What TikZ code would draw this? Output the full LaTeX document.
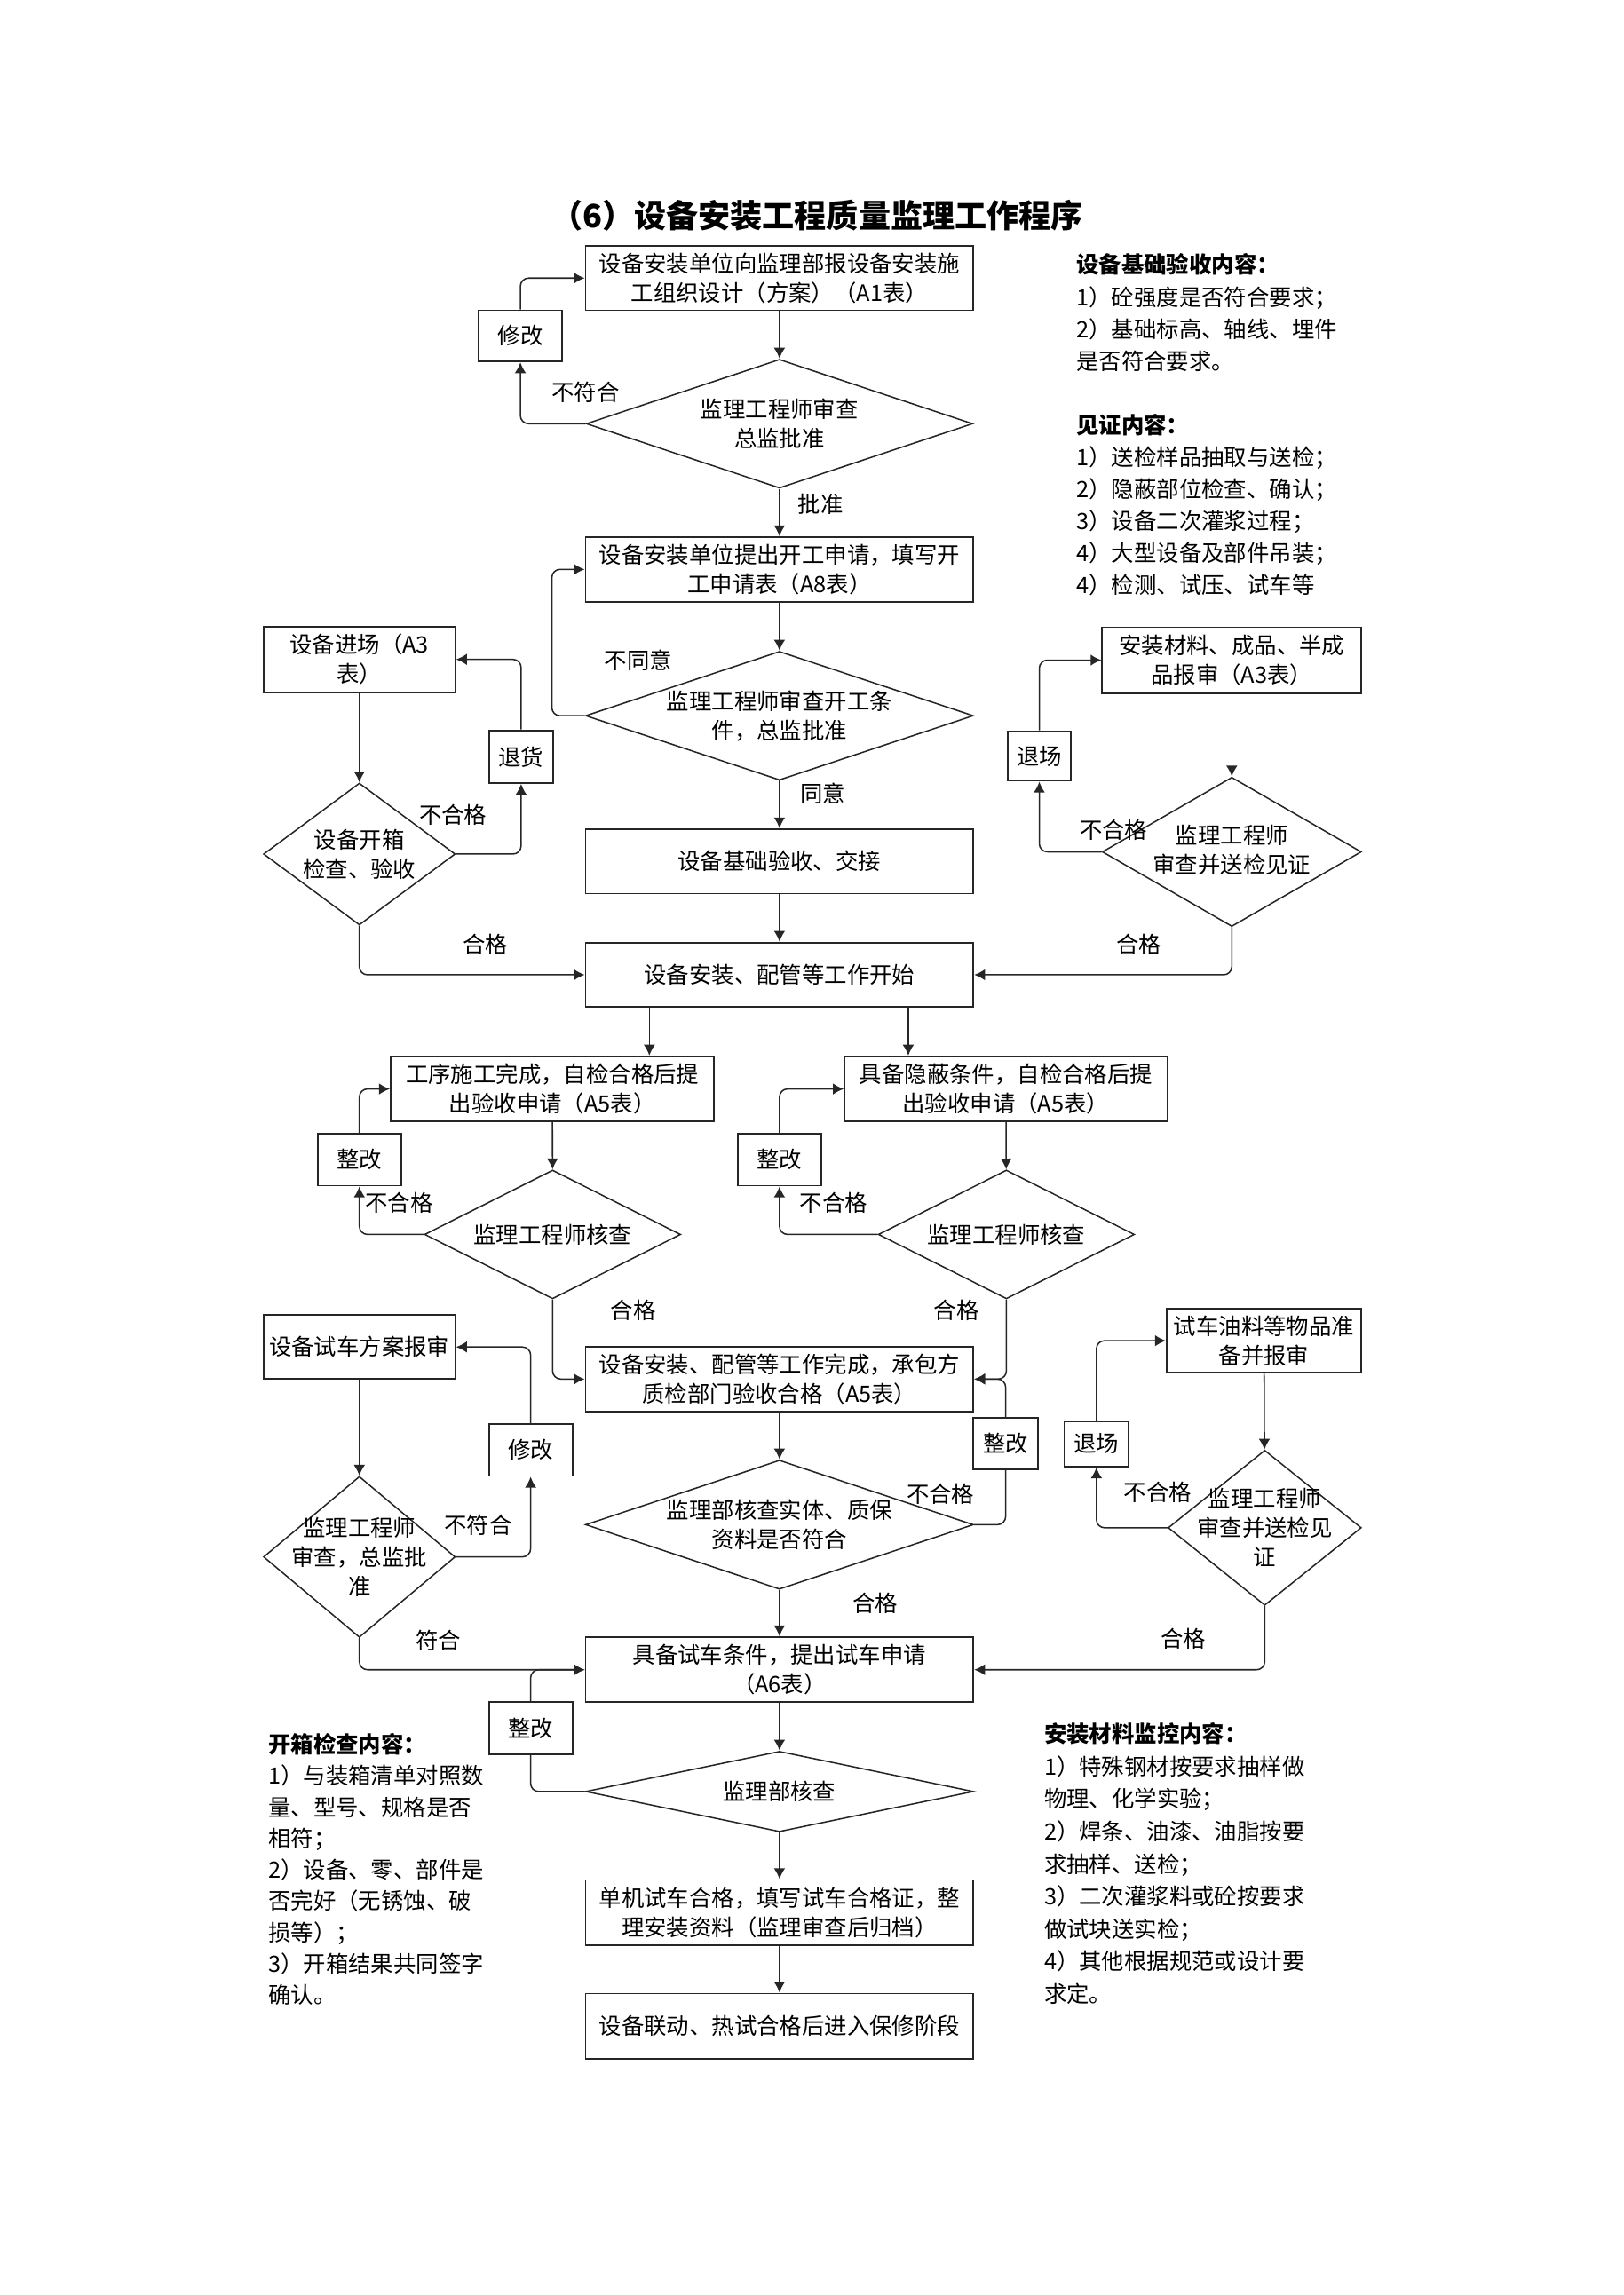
\documentclass[tikz,border=0pt]{standalone}
\usepackage{fontspec}
\setmainfont{Noto Sans CJK SC}
\usetikzlibrary{shapes.geometric,arrows.meta,calc}
\newcommand\btxt{\fontsize{8.3pt}{10.75pt}\selectfont}
\tikzset{
  sz/.style 2 args={minimum width=#1*0.18936mm,minimum height=#2*0.18936mm},
  pbox/.style={draw=black!85,line width=0.6pt,rectangle,inner sep=0pt,align=center,font=\btxt},
  dia/.style={draw=black!85,line width=0.5pt,diamond,inner sep=0pt},
  txt/.style={inner sep=0pt,align=center,font=\btxt},
  note/.style={inner sep=0pt,align=left,anchor=west},
  line/.style={draw=black!85,line width=0.5pt,rounded corners=3pt},
  arr/.style={line,-{Latex[length=4pt,width=4.2pt]}}
}
\begin{document}
\begin{tikzpicture}[x=0.18936mm,y=-0.18936mm]
\fill[white] (0,0) rectangle (1109,1568);
\useasboundingbox (0,0) rectangle (1109,1568);

% title
\node[inner sep=0pt,font=\fontsize{11.8pt}{14pt}\selectfont\bfseries] (title) at (558,147.5) {（6）设备安装工程质量监理工作程序};

% main column
\node[pbox,sz={265}{44}] (a1) at (532.5,190) {设备安装单位向监理部报设备安装施\\工组织设计（方案）（A1表）};
\node[dia,sz={264}{88}] (d1) at (532.5,289.5) {};
\node[txt] (d1t) at (d1) {监理工程师审查\\总监批准};
\node[pbox,sz={265}{44}] (a8) at (532.5,389) {设备安装单位提出开工申请，填写开\\工申请表（A8表）};
\node[dia,sz={265}{88}] (d2) at (532.5,489) {};
\node[txt] (d2t) at (d2) {监理工程师审查开工条\\件，总监批准};
\node[pbox,sz={265}{44}] (jc) at (532.5,588.5) {设备基础验收、交接};
\node[pbox,sz={265}{44}] (ks) at (532.5,666) {设备安装、配管等工作开始};

\node[pbox,sz={57}{35}] (xg1) at (355.5,229.5) {修改};

% left upper
\node[pbox,sz={131}{45}] (jc1) at (245.5,450.5) {设备进场（A3\\表）};
\node[dia,sz={131}{97}] (dk) at (245.5,583.5) {};
\node[txt] (dkt) at (dk) {设备开箱\\检查、验收};
\node[pbox,sz={44}{36}] (th) at (356,517) {退货};

% right upper
\node[pbox,sz={177}{45}] (cl) at (841.5,451) {安装材料、成品、半成\\品报审（A3表）};
\node[dia,sz={177}{102}] (dc) at (841.5,582) {};
\node[txt] (dct) at (841.5,580.5) {监理工程师\\审查并送检见证};
\node[pbox,sz={43.5}{34}] (tc) at (710,516.5) {退场};

% middle row
\node[pbox,sz={221}{44.5}] (gx) at (377.4,744) {工序施工完成，自检合格后提\\出验收申请（A5表）};
\node[pbox,sz={220.5}{44.5}] (yb) at (687.2,744) {具备隐蔽条件，自检合格后提\\出验收申请（A5表）};
\node[pbox,sz={57}{35.5}] (zg1) at (245.5,792.3) {整改};
\node[pbox,sz={57}{35.5}] (zg2) at (532.5,792.3) {整改};
\node[dia,sz={175}{88}] (dh1) at (377.5,843.4) {};
\node[txt] (dh1t) at (dh1) {监理工程师核查};
\node[dia,sz={175}{88}] (dh2) at (687.5,843.4) {};
\node[txt] (dh2t) at (dh2) {监理工程师核查};

% lower
\node[pbox,sz={131}{43.5}] (sc) at (245.5,920.3) {设备试车方案报审};
\node[pbox,sz={265}{44}] (wc) at (532.5,942.2) {设备安装、配管等工作完成，承包方\\质检部门验收合格（A5表）};
\node[pbox,sz={133}{43.5}] (yl) at (863.5,916) {试车油料等物品准\\备并报审};
\node[pbox,sz={57}{35.4}] (xg2) at (362.5,990.7) {修改};
\node[pbox,sz={44}{35.5}] (zg3) at (687,986.3) {整改};
\node[pbox,sz={44}{31}] (tc2) at (749,986.5) {退场};
\node[dia,sz={265}{88.2}] (dz) at (532.5,1041.7) {};
\node[txt] (dzt) at (dz) {监理部核查实体、质保\\资料是否符合};
\node[dia,sz={131}{110}] (dl) at (245.5,1063.7) {};
\node[txt] (dlt) at (dl) {监理工程师\\审查，总监批\\准};
\node[dia,sz={132}{106}] (dr) at (864,1043.8) {};
\node[txt] (drt) at (dr) {监理工程师\\审查并送检见\\证};
\node[pbox,sz={265}{44.4}] (sq) at (532.5,1140.8) {具备试车条件，提出试车申请\\（A6表）};
\node[pbox,sz={57}{35.5}] (zg4) at (362.5,1180.7) {整改};
\node[dia,sz={265}{55}] (dj) at (532.5,1224) {};
\node[txt] (djt) at (dj) {监理部核查};
\node[pbox,sz={265}{44.6}] (dji) at (532.5,1306.7) {单机试车合格，填写试车合格证，整\\理安装资料（监理审查后归档）};
\node[pbox,sz={265}{44.4}] (ld) at (532.5,1384.2) {设备联动、热试合格后进入保修阶段};

% helper coordinates
\coordinate (xa) at (443.6,0);
\coordinate (xb) at (620.5,0);
\coordinate (xd2) at (377,0);

% main arrows
\draw[arr] (a1) -- (d1);
\draw[arr] (d1) -- (a8);
\draw[arr] (a8) -- (d2);
\draw[arr] (d2) -- (jc);
\draw[arr] (jc) -- (ks);
\draw[arr] (ks.south -| xa) -- (gx.north -| xa);
\draw[arr] (ks.south -| xb) -- (yb.north -| xb);
\draw[arr] (gx) -- (dh1);
\draw[arr] (yb) -- (dh2);
\draw[arr] (jc1) -- (dk);
\draw[arr] (cl) -- (dc);
\draw[arr] (sc) -- (dl);
\draw[arr] (yl) -- (dr);
\draw[arr] (wc) -- (dz);
\draw[arr] (dz) -- (sq);
\draw[arr] (sq) -- (dj);
\draw[arr] (dj) -- (dji);
\draw[arr] (dji) -- (ld);

% loops
\draw[arr] (d1.west) -| (xg1.south);
\draw[arr] (xg1.north) |- (a1.west);
\draw[arr] (d2.west) -- (d2.west -| xd2) |- (a8.west);
\draw[arr] (dk.east) -| (th.south);
\draw[arr] (th.north) |- (jc1.east);
\draw[arr] (dk.south) |- (ks.west);
\draw[arr] (dc.west) -| (tc.south);
\draw[arr] (tc.north) |- (cl.west);
\draw[arr] (dc.south) |- (ks.east);
\draw[arr] (dh1.west) -| (zg1.south);
\draw[arr] (zg1.north) |- (gx.west);
\draw[arr] (dh2.west) -| (zg2.south);
\draw[arr] (zg2.north) |- (yb.west);
\draw[arr] (dh1.south) |- (wc.west);
\draw[arr] (dh2.south) |- (wc.east);
\draw[line] (dz.east) -| (zg3.south);
\draw[arr] (zg3.north) |- (wc.east);
\draw[arr] (dl.east) -| (xg2.south);
\draw[arr] (xg2.north) |- (sc.east);
\draw[arr] (dl.south) |- (sq.west);
\draw[arr] (dr.west) -| (tc2.south);
\draw[arr] (tc2.north) |- (yl.west);
\draw[arr] (dr.south) |- (sq.east);
\draw[line] (dj.west) -| (zg4.south);
\draw[arr] (zg4.north) |- (sq.west);

% labels
\node[txt] (l1) at (400,268) {不符合};
\node[txt] (l2) at (560.6,344.7) {批准};
\node[txt] (l3) at (436,451) {不同意};
\node[txt] (l4) at (562,542) {同意};
\node[txt] (l5) at (309.5,557) {不合格};
\node[txt] (l6) at (331.6,645) {合格};
\node[txt] (l7) at (760.7,567) {不合格};
\node[txt] (l8) at (778,645) {合格};
\node[txt] (l9) at (272.7,821.6) {不合格};
\node[txt] (l10) at (569.5,821.6) {不合格};
\node[txt] (l11) at (432.7,895) {合格};
\node[txt] (l12) at (653.5,895) {合格};
\node[txt] (l13) at (642.5,1020.5) {不合格};
\node[txt] (l14) at (326.6,1041.7) {不符合};
\node[txt] (l15) at (790.8,1019.5) {不合格};
\node[txt] (l16) at (598,1095.3) {合格};
\node[txt] (l17) at (299.4,1120.6) {符合};
\node[txt] (l18) at (808.4,1119.6) {合格};

% notes
\node[note,font=\fontsize{8.3pt}{11.8pt}\selectfont] (n1) at (735,213.6) {\textbf{设备基础验收内容：}\\1）砼强度是否符合要求；\\2）基础标高、轴线、埋件\\是否符合要求。};
\node[note,font=\fontsize{8.3pt}{11.8pt}\selectfont] (n2) at (735,345) {\textbf{见证内容：}\\1）送检样品抽取与送检；\\2）隐蔽部位检查、确认；\\3）设备二次灌浆过程；\\4）大型设备及部件吊装；\\4）检测、试压、试车等};
\node[note,font=\fontsize{8.3pt}{11.53pt}\selectfont] (n3) at (183,1277.2) {\textbf{开箱检查内容：}\\1）与装箱清单对照数\\量、型号、规格是否\\相符；\\2）设备、零、部件是\\否完好（无锈蚀、破\\损等）；\\3）开箱结果共同签字\\确认。};
\node[note,font=\fontsize{8.3pt}{11.96pt}\selectfont] (n4) at (713,1273.3) {\textbf{安装材料监控内容：}\\1）特殊钢材按要求抽样做\\物理、化学实验；\\2）焊条、油漆、油脂按要\\求抽样、送检；\\3）二次灌浆料或砼按要求\\做试块送实检；\\4）其他根据规范或设计要\\求定。};
\end{tikzpicture}
\end{document}
